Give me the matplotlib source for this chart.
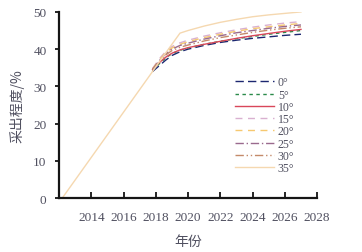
import numpy as np
import matplotlib
matplotlib.use('Agg')
import matplotlib.pyplot as plt

# history (shared by all cases)
hist_years = [2012.2, 2017.8]
hist_vals = [0.0, 34.0]

# forecast per dip angle
years = [2017.8, 2018.2, 2018.6, 2019.0, 2019.5, 2020, 2021, 2022, 2023, 2024, 2025, 2026, 2027]
labels = ['0°', '5°', '10°', '15°', '20°', '25°', '30°', '35°']
r0 = [34.0, 35.5, 37.0, 38.3, 39.3, 40.0, 41.0, 41.8, 42.4, 42.9, 43.3, 43.7, 44.0]
r5 = [34.3, 36.0, 37.6, 38.8, 39.7, 40.3, 41.3, 42.1, 42.8, 43.4, 44.0, 44.5, 45.0]
r10 = [34.5, 36.3, 37.8, 38.9, 39.8, 40.4, 41.3, 42.1, 42.9, 43.6, 44.2, 44.8, 45.3]
r15 = [34.8, 37.3, 39.3, 40.7, 41.7, 42.4, 43.5, 44.4, 45.2, 45.9, 46.5, 47.0, 47.4]
r20 = [34.7, 37.0, 39.0, 40.3, 41.3, 42.0, 43.1, 44.0, 44.8, 45.5, 46.0, 46.5, 46.9]
r25 = [34.6, 36.8, 38.7, 40.0, 41.0, 41.6, 42.7, 43.6, 44.4, 45.0, 45.6, 46.1, 46.5]
r30 = [34.5, 36.6, 38.4, 39.6, 40.5, 41.1, 42.2, 43.1, 43.8, 44.5, 45.1, 45.6, 46.0]
r35 = [34.0, 36.5, 38.9, 41.3, 44.3, 45.0, 46.2, 47.2, 48.0, 48.7, 49.2, 49.6, 50.0]
series = [r0, r5, r10, r15, r20, r25, r30, r35]

colors = ['#1c2770', '#2a8a4a', '#d9475a', '#d9b0d0', '#f6c870', '#9a6a8e', '#c48a6a', '#f5d8b0']
styles = [(0, (6, 3)), (0, (2.5, 2.5)), '-', (0, (5, 4)), (0, (5, 4)),
          (0, (6, 2, 1, 2)), (0, (6, 2, 1, 2, 1, 2)), '-']

num_font = ['Liberation Serif', 'Noto Sans CJK SC']
cjk_font = ['Noto Sans CJK SC', 'DejaVu Sans']
txt_color = '#505060'

fig = plt.figure(figsize=(3.62, 2.53), dpi=100)
ax = fig.add_axes([0.163, 0.213, 0.713, 0.736])

ax.plot(hist_years, hist_vals, color=colors[-1], lw=1.0)
for vals, lab, c, ls in zip(series, labels, colors, styles):
    ax.plot(years, vals, color=c, ls=ls, lw=1.0, label=lab)

ax.set_xlim(2012, 2028)
ax.set_ylim(0, 50)
ax.set_xticks(np.arange(2014, 2029, 2))
ax.set_yticks(np.arange(0, 51, 10))

for s in ['top', 'right']:
    ax.spines[s].set_visible(False)
for s in ['left', 'bottom']:
    ax.spines[s].set_linewidth(1.6)
    ax.spines[s].set_color('#151515')

ax.tick_params(axis='x', direction='in', length=4, width=1.2, pad=9,
               labelsize=9.5, labelcolor=txt_color)
ax.tick_params(axis='y', direction='out', length=3, width=1.2, pad=6,
               labelsize=9.5, labelcolor=txt_color)
for t in ax.get_xticklabels() + ax.get_yticklabels():
    t.set_family(num_font)

ax.set_xlabel('年份', family=cjk_font, fontsize=10, color=txt_color, labelpad=8)
ax.set_ylabel('采出程度/%', family=cjk_font, fontsize=10, color=txt_color, labelpad=6)

leg = ax.legend(loc='upper left', bbox_to_anchor=(0.66, 0.685), frameon=False,
                handlelength=3.3, labelspacing=0.02, handletextpad=0.3,
                prop={'family': num_font, 'size': 8.5}, borderpad=0)
for t in leg.get_texts():
    t.set_color(txt_color)

fig.savefig('out.png', dpi=100)
